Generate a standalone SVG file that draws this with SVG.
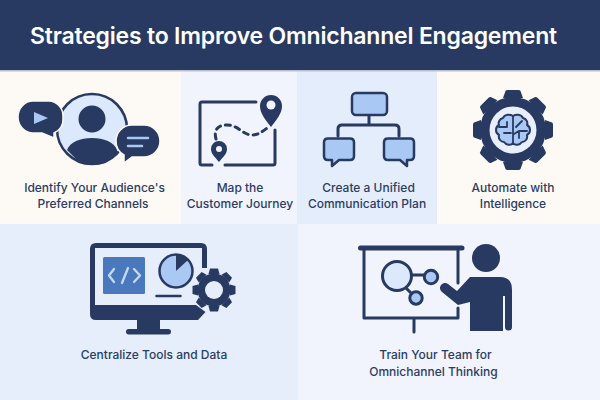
<svg xmlns="http://www.w3.org/2000/svg" width="600" height="400" viewBox="0 0 600 400">
<style>
text{font-family:Inter,"Liberation Sans",sans-serif;fill:#2b3d63;font-size:12px;font-weight:500;text-anchor:middle}
.title{fill:#fff;font-size:23px;font-weight:600;letter-spacing:-.2px}
.d{fill:#283a61}
.l{fill:none;stroke:#283a61;stroke-width:3;stroke-linecap:round;stroke-linejoin:round}
.lb{fill:#a9c8f3}
.pl{fill:#dce8fb}
</style>
<defs>
<path id="t1" class="d" d="M-10,-32 L-7.500,-39 Q-7,-40 -5.500,-40 H5.500 Q7,-40 7.500,-39 L10,-32Z"/>
<path id="t2" class="d" d="M-5.500,-16 L-4,-21.500 H4 L5.500,-16Z"/>
</defs>
<rect width="600" height="400" fill="#f1f4fd"/>
<g id="panels">
<rect y="71" width="181" height="153" fill="#fdf9f5"/>
<rect x="181" y="71" width="116" height="153" fill="#f1f4fd"/>
<rect x="297" y="71" width="140" height="153" fill="#e4edfc"/>
<rect x="437" y="71" width="163" height="153" fill="#fdf9f5"/>
<rect y="224" width="298" height="176" fill="#e6eefc"/>
<rect x="298" y="224" width="302" height="176" fill="#f1f4fd"/>
</g>
<g id="header">
<rect width="600" height="70" fill="#283a61"/>
<rect y="70" width="600" height="1.500" fill="#b9bfcf"/>
<text class="title" x="293.500" y="44">Strategies to Improve Omnichannel Engagement</text>
</g>
<g id="node-audience">
<circle class="pl" cx="92" cy="129" r="34"/>
<circle cx="92" cy="129" r="35" fill="none" stroke="#283a61" stroke-width="2.500"/>
<circle class="d" cx="92" cy="119" r="13.500"/>
<path class="d" d="M67,150 C70,142 80,138 92,138 C104,138 114,142 117,150 V154 L105,163 Q92,166 80,163 Z"/>
<path class="d" stroke="#fdf9f5" stroke-width="1.500" d="M33,101 H49 A14.500,15 0 0 1 63,116 V119 A14.500,14 0 0 1 54,133 V138 L42,133 H33 A15,16 0 0 1 18,117 A15,16 0 0 1 33,101Z"/>
<path class="lb" d="M34,112 L48,118 L34,124Z"/>
<path class="d" stroke="#fdf9f5" stroke-width="1.500" d="M132,125 H144 A16,16 0 0 1 160,141 A16,16 0 0 1 144,157 H132 L124,163 V155 A16,16 0 0 1 116,141 A16,16 0 0 1 132,125Z"/>
<path d="M128,138 H148" stroke="#a9c8f3" stroke-width="2.500" stroke-linecap="round"/>
<path d="M128,146 H142" stroke="#a9c8f3" stroke-width="2.500" stroke-linecap="round"/>
<text x="94.500" y="192">Identify Your Audience's</text>
<text x="93" y="208">Preferred Channels</text>
</g>
<g id="node-journey">
<path class="l" d="M256,102 H202 Q200,102 200,104 V163 Q200,165 202,165 H212"/>
<path class="l" d="M225,165 H273 Q275,165 275,163 V130"/>
<path class="l" stroke-dasharray="5 5" d="M216,139 C213,128 220,125 227,125 C238,125 243,135 252,135 C258,135 262,132 267,128"/>
<path class="d" d="M271,127 C266,120 260,114 260,106 A11,11 0 0 1 282,106 C282,114 276,120 271,127Z"/>
<circle cx="271" cy="105" r="4.500" fill="#f1f4fd"/>
<path class="d" d="M219,162 C215,157 211,154 211,149 A8,8 0 0 1 227,149 C227,154 223,157 219,162Z"/>
<circle cx="219" cy="149" r="3" fill="#f1f4fd"/>
<text x="240" y="192">Map the</text>
<text x="240" y="208">Customer Journey</text>
</g>
<g id="node-plan">
<path class="l" stroke-width="2.500" d="M369,115 V125 M338,136 V129 Q338,125 342,125 H395 Q399,125 399,129 V136"/>
<rect class="lb" x="352" y="93" width="35" height="22" rx="4" stroke="#283a61" stroke-width="2.500"/>
<path class="lb" stroke="#283a61" stroke-width="2.500" stroke-linejoin="round" d="M328,138.500 H350 Q354,138.500 354,142.500 V156 Q354,160 350,160 H339 L332,166 V160 H328 Q324,160 324,156 V142.500 Q324,138.500 328,138.500Z"/>
<path class="lb" stroke="#283a61" stroke-width="2.500" stroke-linejoin="round" d="M388,138.500 H410 Q414,138.500 414,142.500 V156 Q414,160 410,160 H407 V166 L400,160 H388 Q384,160 384,156 V142.500 Q384,138.500 388,138.500Z"/>
<text x="368.500" y="192">Create a Unified</text>
<text x="367" y="208">Communication Plan</text>
</g>
<g id="node-automate">
<g transform="translate(513,130)">
<circle class="d" r="33"/>
<use href="#t1"/>
<use href="#t1" transform="rotate(45)"/>
<use href="#t1" transform="rotate(90)"/>
<use href="#t1" transform="rotate(135)"/>
<use href="#t1" transform="rotate(180)"/>
<use href="#t1" transform="rotate(225)"/>
<use href="#t1" transform="rotate(270)"/>
<use href="#t1" transform="rotate(315)"/>
<circle r="23.500" fill="#e8eefa"/>
<path class="lb" stroke="#283a61" stroke-width="2" stroke-linejoin="round" d="M0,-14 C-3,-16 -8,-16 -10,-12 C-14,-11 -15,-7 -14,-5 C-18,-3 -18,3 -14,5 C-15,9 -12,12 -9,12 C-7,15 -2,16 0,13 C2,16 7,15 9,12 C12,12 15,9 14,5 C18,3 18,-3 14,-5 C15,-7 14,-11 10,-12 C8,-16 3,-16 0,-14Z"/>
<path fill="none" stroke="#283a61" stroke-width="1.800" stroke-linecap="round" d="M0,-14 V13 M-14,-3 H-7 M-9,3 H-2 M-6,-8 V-3 M9,-9 L3,-3 M14,1 H6 L1,4 M6,1 V8"/>
</g>
<text x="513" y="192">Automate with</text>
<text x="513" y="208">Intelligence</text>
</g>
<g id="node-tools">
<path class="d" d="M96,243 H201 Q207,243 207,249 V268 H202 V248 H95 V305 H196 L205.500,312 L198,320 H96 Q90,320 90,314 V249 Q90,243 96,243Z"/>
<rect class="d" x="137" y="318" width="23" height="12"/>
<rect class="d" x="126" y="329" width="45" height="5.500" rx="2.750"/>
<rect x="103" y="257" width="42" height="37" rx="1.500" fill="#4a78bd"/>
<path d="M114,269 L109,275.500 L114,282 M134,269 L140,275.500 L134,282 M128,268 L122,283" fill="none" stroke="#c3d8f5" stroke-width="2.300" stroke-linecap="round" stroke-linejoin="round"/>
<circle class="lb" cx="176" cy="271" r="16.500" stroke="#283a61" stroke-width="2.500"/>
<path class="d" d="M176,271 V254.500 A16.500,16.500 0 0 1 188,260Z"/>
<path d="M156.500,296 H180.500" stroke="#283a61" stroke-width="2.500" stroke-linecap="round"/>
<g transform="translate(214,290)">
<circle r="21" fill="#e6eefc"/>
<circle class="d" r="16.500"/>
<use href="#t2"/>
<use href="#t2" transform="rotate(45)"/>
<use href="#t2" transform="rotate(90)"/>
<use href="#t2" transform="rotate(135)"/>
<use href="#t2" transform="rotate(180)"/>
<use href="#t2" transform="rotate(225)"/>
<use href="#t2" transform="rotate(270)"/>
<use href="#t2" transform="rotate(315)"/>
<circle r="9" fill="#e6eefc"/>
</g>
<text x="154" y="359">Centralize Tools and Data</text>
</g>
<g id="node-training">
<path d="M360.500,248 H462" stroke="#283a61" stroke-width="5" stroke-linecap="round"/>
<path class="l" stroke-linecap="butt" d="M458,249 V283 M364,249 V318 H458 V308 M414,318 V332"/>
<path class="l" d="M410,275 H424 M406,288 L411,293"/>
<circle class="pl" cx="397" cy="276" r="14.500" stroke="#283a61" stroke-width="3"/>
<circle class="lb" cx="431" cy="277" r="6.700" stroke="#283a61" stroke-width="3"/>
<circle class="lb" cx="416" cy="298" r="6.200" stroke="#283a61" stroke-width="3"/>
<circle class="d" cx="486" cy="258" r="14"/>
<path class="d" d="M470,277 H500 Q512,277 512,290 V327 A3.500,3.500 0 0 1 505,327 V296 H503 V331 H470 V302 L458,305 L442,292 A4.500,4.500 0 0 1 448,284 L457,291Z"/>
<text x="435.500" y="359">Train Your Team for</text>
<text x="433.500" y="376">Omnichannel Thinking</text>
</g>
</svg>
